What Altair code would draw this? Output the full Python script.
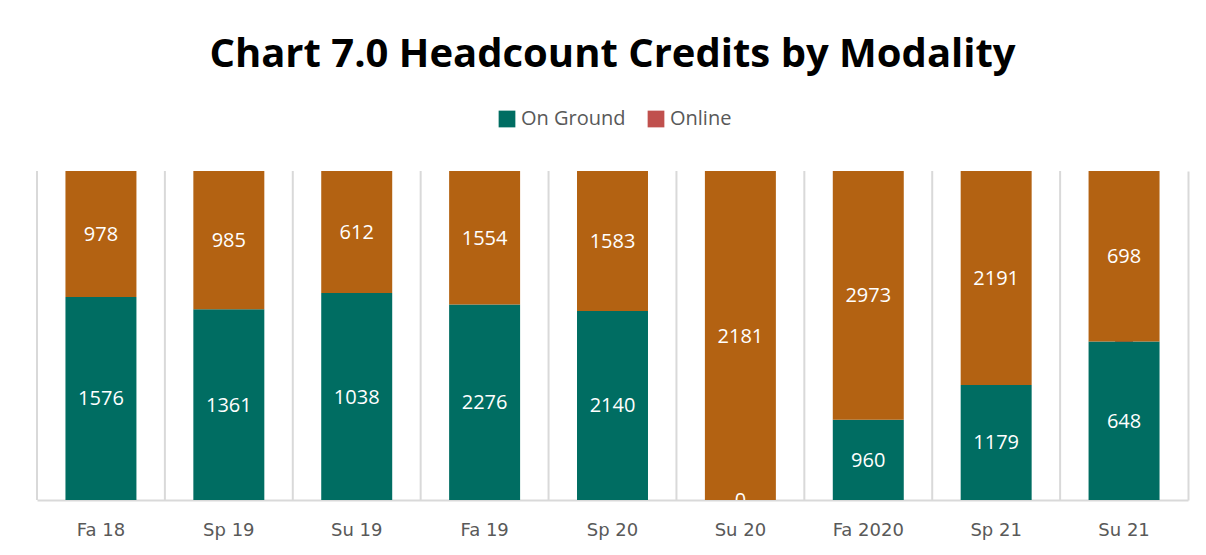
import altair as alt
import pandas as pd

terms = ["Fa 18", "Sp 19", "Su 19", "Fa 19", "Sp 20", "Su 20", "Fa 2020", "Sp 21", "Su 21"]
on_ground = [1576, 1361, 1038, 2276, 2140, 0, 960, 1179, 648]
online = [978, 985, 612, 1554, 1583, 2181, 2973, 2191, 698]
series = ["On Ground", "Online"]

rows = []
for t, g, o in zip(terms, on_ground, online):
    rows.append({"Term": t, "Modality": "On Ground", "Value": g, "ord": 0})
    rows.append({"Term": t, "Modality": "Online", "Value": o, "ord": 1})
df = pd.DataFrame(rows)
df_terms = pd.DataFrame({"Term": terms})

TEAL = "#006D62"
ORANGE = "#B36212"
RED = "#C0504D"
GRID = "#D9D9D9"

xscale = alt.Scale(domain=terms, paddingInner=0, paddingOuter=0)
x_axis = alt.X("Term:N", sort=terms, scale=xscale,
               axis=alt.Axis(title=None, grid=False, domainColor=GRID, domainWidth=2,
                             ticks=False, labelAngle=0,
                             labelFont="DejaVu Sans", labelFontSize=18,
                             labelColor="#595959", labelPadding=21))
x_plain = alt.X("Term:N", sort=terms, scale=xscale, axis=None)

yscale = alt.Scale(domain=[0, 1], nice=False, zero=True)

base = alt.Chart(df).transform_joinaggregate(
    total="sum(Value)", groupby=["Term"]
).transform_window(
    cum="sum(Value)", groupby=["Term"], sort=[alt.SortField("ord")], frame=[None, 0]
).transform_calculate(
    y0="(datum.cum - datum.Value) / datum.total",
    y1="datum.cum / datum.total",
    ymid="(datum.cum - datum.Value / 2) / datum.total",
)

grid = alt.Chart(df_terms).mark_rule(color=GRID, strokeWidth=2).encode(
    x=alt.X("Term:N", sort=terms, scale=xscale, bandPosition=0, axis=None),
    y=alt.datum(0, scale=yscale, axis=None),
    y2=alt.datum(1),
)

legend_layer = alt.Chart(df).mark_square(size=300, opacity=1).encode(
    x=x_axis,
    y=alt.Y("half:Q", scale=yscale,
            axis=alt.Axis(title=None, orient="right", labels=False, ticks=False,
                          grid=False, domainColor=GRID, domainWidth=2)),
    color=alt.Color("Modality:N",
                    scale=alt.Scale(domain=series, range=[TEAL, RED]),
                    legend=alt.Legend(title=None, orient="none", direction="horizontal",
                                      legendX=460, legendY=-62, symbolType="square",
                                      symbolSize=280, symbolStrokeWidth=0,
                                      labelFont="Open Sans", labelFontSize=20,
                                      labelColor="#595959", columnPadding=20,
                                      labelOffset=4)),
).transform_calculate(half="0.5")

bars = base.mark_bar(width=alt.RelativeBandSize(0.555)).encode(
    x=x_plain,
    y=alt.Y("y0:Q", scale=yscale, axis=None),
    y2="y1:Q",
    color=alt.Color("Modality:N", scale=alt.Scale(domain=series, range=[TEAL, ORANGE]),
                    legend=None),
)

labels = base.mark_text(color="white", font="Open Sans", fontSize=20,
                        baseline="middle", dy=1, clip=True).encode(
    x=x_plain,
    y=alt.Y("ymid:Q", scale=yscale, axis=None),
    text="Value:Q",
)

chart = alt.layer(grid, legend_layer, bars, labels).resolve_scale(
    color="independent"
).resolve_axis(
    x="independent", y="independent"
).properties(
    width=1151,
    height=329,
    padding={"left": 37, "top": 171, "right": 18, "bottom": 55},
    autosize=alt.AutoSizeParams(type="none"),
    title=alt.TitleParams("Chart 7.0 Headcount Credits by Modality",
                          font="Open Sans", fontSize=40, fontWeight="bold",
                          color="black", anchor="middle", offset=34),
).configure_view(stroke=None)

chart.save("out.html", embed_options={"renderer": "svg", "actions": False})
